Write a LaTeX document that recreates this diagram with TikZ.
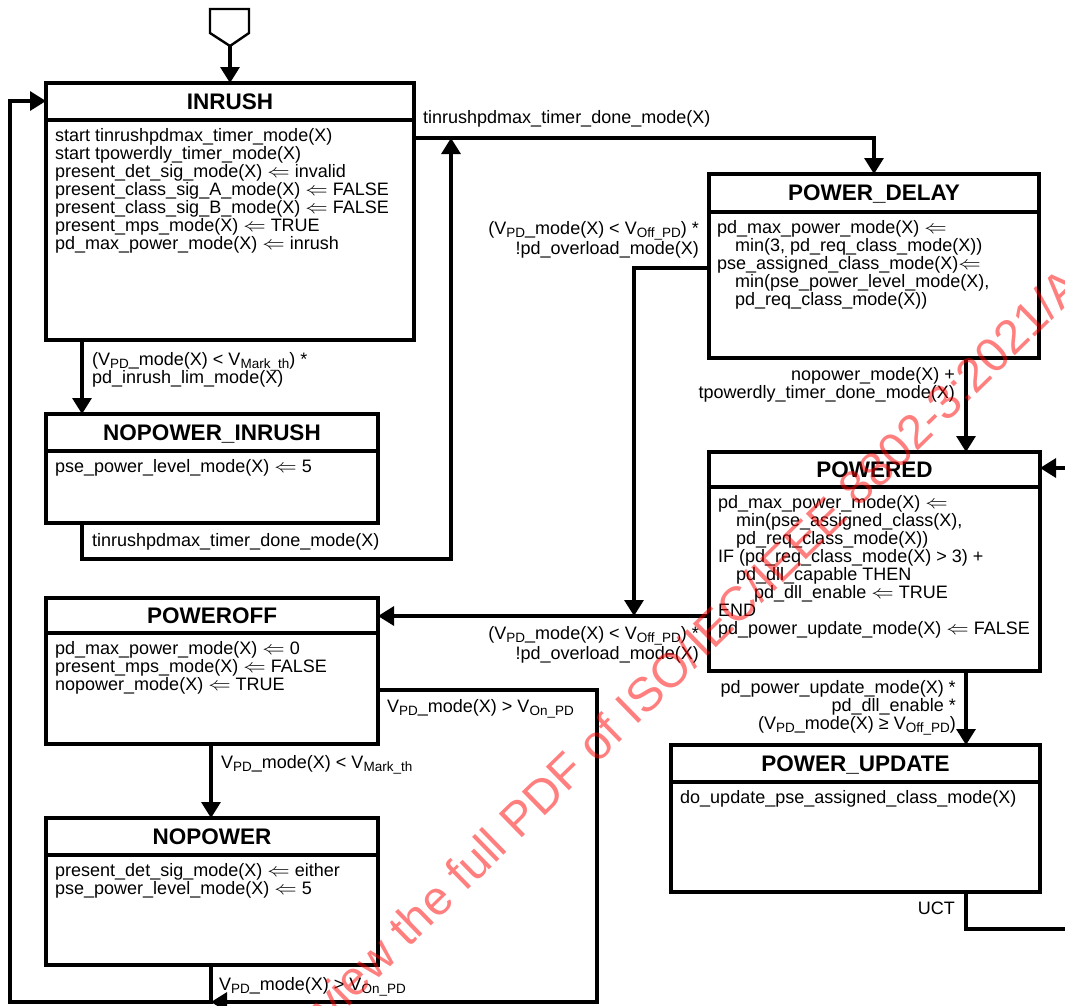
\documentclass[tikz,border=0pt]{standalone}
\usepackage{fontspec}
\usepackage{graphicx}
\setmainfont{Liberation Sans}
\usetikzlibrary{arrows.meta}
\newcommand{\bodyfont}{\fontsize{18}{18}\selectfont}
\newcommand{\titlefont}{\fontsize{22.5}{24}\selectfont\bfseries}
\newcommand{\lo}[1]{\smash{\raisebox{-3.5pt}{\fontsize{13.5}{13.5}\selectfont #1}}}
\newcommand{\la}{\scalebox{1.3}[1.1]{$\Leftarrow$}}
\newcommand{\bl}{\rule{0pt}{14pt}}

\tikzset{
  statebox/.style={draw, line width=3.2pt, anchor=north west, inner sep=0pt, outer sep=0pt},
  divline/.style={line width=3.2pt},
  stitle/.style={anchor=base, inner sep=0pt, font=\titlefont},
  sbody/.style={anchor=north west, inner sep=0pt, align=left, font=\bodyfont},
  condl/.style={anchor=north west, inner sep=0pt, align=left, font=\bodyfont},
  condr/.style={anchor=north east, inner sep=0pt, align=right, font=\bodyfont},
  arr/.style={line width=3.2pt, -{Triangle[length=16pt,width=19pt]}},
  watermark/.style={anchor=base west, inner sep=0pt, rotate=44.3, text=red, text opacity=0.5, font=\fontsize{48}{48}\selectfont}
}

\begin{document}
\begin{tikzpicture}[x=1pt, y=-1pt]
\useasboundingbox (0,0) rectangle (1065,1005);
\fill[white] (0,0) rectangle (1065,1005);
\clip (0,0) rectangle (1065,1005);

%states:
\node[statebox, minimum width=368pt, minimum height=257pt] (inrush) at (46,83) {};
\draw[divline] (46,120) -- (414,120);
\node[stitle] (inrush-t) at (230,109) {INRUSH};
\node[sbody] (inrush-b) at (55,127.5) {\bl start tinrushpdmax\_timer\_mode(X)\\
  start tpowerdly\_timer\_mode(X)\\
  present\_det\_sig\_mode(X) \la{} invalid\\
  present\_class\_sig\_A\_mode(X) \la{} FALSE\\
  present\_class\_sig\_B\_mode(X) \la{} FALSE\\
  present\_mps\_mode(X) \la{} TRUE\\
  pd\_max\_power\_mode(X) \la{} inrush};

\node[statebox, minimum width=332pt, minimum height=109pt] (npi) at (46,414) {};
\draw[divline] (46,451) -- (378,451);
\node[stitle] (npi-t) at (212,440) {NOPOWER\_INRUSH};
\node[sbody] (npi-b) at (55,458.5) {\bl pse\_power\_level\_mode(X) \la{} 5};

\node[statebox, minimum width=330pt, minimum height=184pt] (pdelay) at (709,174) {};
\draw[divline] (709,212) -- (1039,212);
\node[stitle] (pdelay-t) at (874,200.5) {POWER\_DELAY};
\node[sbody] (pdelay-b) at (717,219.5) {\bl pd\_max\_power\_mode(X) \la\\
  \hspace*{18pt}min(3, pd\_req\_class\_mode(X))\\
  pse\_assigned\_class\_mode(X)\la\\
  \hspace*{18pt}min(pse\_power\_level\_mode(X),\\
  \hspace*{18pt}pd\_req\_class\_mode(X))};

\node[statebox, minimum width=331pt, minimum height=219pt] (powered) at (709,452) {};
\draw[divline] (709,487) -- (1040,487);
\node[stitle] (powered-t) at (874.5,477) {POWERED};
\node[sbody] (powered-b) at (718,494.5) {\bl pd\_max\_power\_mode(X) \la\\
  \hspace*{18pt}min(pse\_assigned\_class(X),\\
  \hspace*{18pt}pd\_req\_class\_mode(X))\\
  IF (pd\_req\_class\_mode(X) > 3) +\\
  \hspace*{18pt}pd\_dll\_capable THEN\\
  \hspace*{36pt}pd\_dll\_enable \la{} TRUE\\
  END\\
  pd\_power\_update\_mode(X) \la{} FALSE};

\node[statebox, minimum width=332pt, minimum height=146pt] (poweroff) at (46,598) {};
\draw[divline] (46,633) -- (378,633);
\node[stitle] (poweroff-t) at (212,623) {POWEROFF};
\node[sbody] (poweroff-b) at (55,640.5) {\bl pd\_max\_power\_mode(X) \la{} 0\\
  present\_mps\_mode(X) \la{} FALSE\\
  nopower\_mode(X) \la{} TRUE};

\node[statebox, minimum width=332pt, minimum height=147pt] (nopower) at (46,818) {};
\draw[divline] (46,855) -- (378,855);
\node[stitle] (nopower-t) at (212,844) {NOPOWER};
\node[sbody] (nopower-b) at (55,862.5) {\bl present\_det\_sig\_mode(X) \la{} either\\
  pse\_power\_level\_mode(X) \la{} 5};

\node[statebox, minimum width=369pt, minimum height=147pt] (pupdate) at (671,745) {};
\draw[divline] (671,782) -- (1040,782);
\node[stitle] (pupdate-t) at (855.5,771) {POWER\_UPDATE};
\node[sbody] (pupdate-b) at (680,789.5) {\bl do\_update\_pse\_assigned\_class\_mode(X)};

%conditions:
\node[condl, anchor=base west] (c-done) at (423,123) {tinrushpdmax\_timer\_done\_mode(X)};
\node[condl] (c-lim) at (92,351) {\bl (V\lo{PD}\_mode(X) < V\lo{Mark\_th}) *\\
  pd\_inrush\_lim\_mode(X)};
\node[condl, anchor=base west] (c-done2) at (92,546) {tinrushpdmax\_timer\_done\_mode(X)};
\node[condr] (c-off1) at (699,220) {\bl (V\lo{PD}\_mode(X) < V\lo{Off\_PD}) *\\[2pt]
  !pd\_overload\_mode(X)};
\node[condr] (c-dly) at (955,366) {\bl nopower\_mode(X) +\\
  tpowerdly\_timer\_done\_mode(X)};
\node[condr] (c-off2) at (699,625) {\bl (V\lo{PD}\_mode(X) < V\lo{Off\_PD}) *\\[2pt]
  !pd\_overload\_mode(X)};
\node[condr] (c-upd) at (956,679) {\bl pd\_power\_update\_mode(X) *\\
  pd\_dll\_enable *\\
  (V\lo{PD}\_mode(X) ≥ V\lo{Off\_PD})};
\node[condr, anchor=base east] (c-uct) at (955,914) {UCT};
\node[condl, anchor=base west] (c-mark) at (221,768) {V\lo{PD}\_mode(X) < V\lo{Mark\_th}};
\node[condl, anchor=base west] (c-on1) at (387,712) {V\lo{PD}\_mode(X) > V\lo{On\_PD}};
\node[condl, anchor=base west] (c-on2) at (219,990) {V\lo{PD}\_mode(X) > V\lo{On\_PD}};

%helper points
\coordinate (entry) at (230,46);
\coordinate (xa) at (82,0);
\coordinate (xb) at (211,0);
\coordinate (xr) at (966,0);
\coordinate (tdone) at (451,138);
\coordinate (offjoin) at (634,616);
\coordinate (bjoin) at (211,1002);
\coordinate (lbot) at (10,1002);
\coordinate (rbot) at (597,1002);
\coordinate (uct) at (1080,929);

%entry:
\draw[line width=2.4pt] (210,9) -- (249,9) -- (249,33) -- (entry) -- (210,33) -- cycle;
\draw[arr] (entry) -- (inrush.north);

%transitions:
\draw[arr] (inrush.east |- tdone) -| (pdelay.north);
\draw[arr] (inrush.south -| xa) -- (npi.north -| xa);
\draw[arr] (npi.south -| xa) -- ++(0,36) -| (tdone);
\draw[arr] ([yshift=-94pt]pdelay.north west) -| (offjoin);
\draw[arr] (pdelay.south -| xr) -- (powered.north -| xr);
\draw[arr] (powered.west |- offjoin) -- (poweroff.east |- offjoin);
\draw[arr] (powered.south -| xr) -- (pupdate.north -| xr);
\draw[arr] (pupdate.south -| xr) |- (uct) |- ([yshift=-16pt]powered.north east);
\draw[arr] (poweroff.south -| xb) -- (nopower.north -| xb);
\draw[arr] ([yshift=-92pt]poweroff.north east) -| (rbot) -- (bjoin);
\draw[arr] (nopower.south -| xb) -- (bjoin) -- (lbot) |- ([yshift=-18pt]inrush.north west);

%watermark
\node[watermark] (wm) at (330,1025) {view the full PDF of ISO/IEC/IEEE 8802-3:2021/A};

\end{tikzpicture}
\end{document}
